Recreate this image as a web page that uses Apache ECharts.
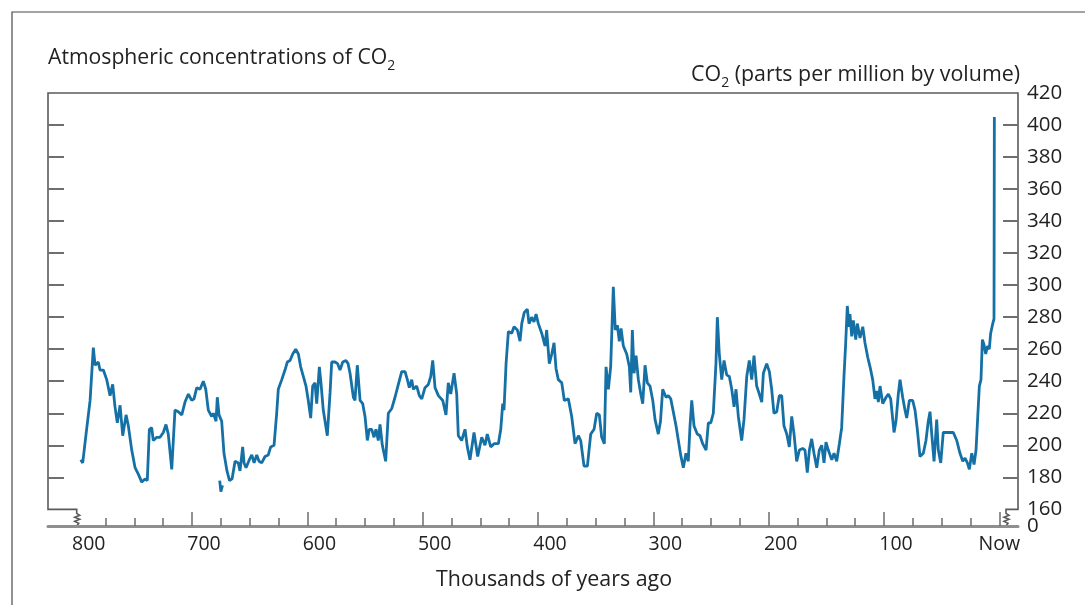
<!DOCTYPE html>
<html>
<head>
<meta charset="utf-8">
<style>
  html, body { margin: 0; padding: 0; background: #fff; }
  #main { width: 1085px; height: 605px; }
</style>
<script src="https://cdn.jsdelivr.net/npm/echarts@6/dist/echarts.min.js"></script>
</head>
<body>
<div id="main"></div>
<script>
// thousands of years ago / ppm
var kyrAgo = [
  796.5, 794.8, 791.9, 788.4, 785.6, 784.1, 781.3, 779.8, 776.9, 774.0,
  771.1, 768.8, 766.8, 764.8, 762.4, 760.1, 757.2, 755.2, 752.3, 749.4,
  746.6, 743.6, 740.8, 738.8, 737.0, 735.0, 733.6, 730.6, 727.8, 724.9,
  722.6, 720.6, 717.6, 714.8, 711.9, 708.9, 706.1, 703.2, 700.3, 698.3,
  695.9, 693.1, 690.2, 688.1, 685.9, 682.9, 681.5, 679.2, 678.1, 676.6,
  674.3, 672.3, 669.7, 667.5, 665.3, 662.7, 659.9, 658.4, 656.1, 654.9,
  653.2, 650.3, 648.2, 646.2, 643.9, 641.9, 639.6, 636.7, 633.9, 631.8,
  628.9, 626.6, 625.2, 622.2, 619.4, 617.4, 615.0, 612.7, 610.1, 607.8,
  605.8, 603.5, 601.2, 599.2, 597.1, 595.4, 593.4, 591.9, 589.6, 588.2,
  586.2, 582.7, 580.3, 578.9, 576.0, 573.8, 571.7, 569.3, 566.5, 564.7,
  563.0, 560.1, 558.7, 556.7, 554.3, 552.0, 550.0, 548.0, 546.3, 544.2,
  542.2, 540.5, 538.5, 537.0, 535.0, 533.5, 532.1, 529.8, 526.8, 524.0,
  521.1, 518.2, 515.3, 513.3, 511.6, 509.5, 508.1, 505.2, 502.9, 500.8,
  498.0, 495.1, 493.0, 491.3, 489.3, 486.4, 482.6, 479.8, 477.8, 475.7,
  472.8, 470.5, 469.1, 466.2, 463.3, 461.3, 459.0, 455.5, 452.3, 448.8,
  446.0, 444.0, 441.0, 438.1, 434.4, 432.3, 430.6, 429.5, 427.7, 425.7,
  422.8, 420.8, 417.9, 415.6, 414.1, 411.9, 409.3, 407.8, 405.5, 403.5,
  401.7, 399.7, 396.8, 393.9, 392.5, 390.2, 388.1, 386.1, 384.4, 382.4,
  379.4, 377.2, 373.7, 370.8, 367.9, 365.0, 363.0, 360.1, 357.2, 354.3,
  351.4, 349.1, 346.8, 344.8, 342.5, 341.0, 339.0, 337.0, 334.7, 333.0,
  331.2, 329.5, 328.0, 326.0, 323.1, 320.8, 319.6, 318.2, 316.7, 315.0,
  313.0, 310.9, 309.2, 307.2, 305.2, 302.9, 300.5, 298.5, 295.7, 293.8,
  291.9, 289.0, 287.0, 284.9, 282.7, 280.3, 278.3, 276.3, 274.0, 271.7,
  269.7, 268.2, 266.7, 264.7, 261.9, 259.5, 257.2, 254.3, 252.3, 250.2,
  248.0, 245.7, 244.5, 242.8, 240.7, 238.7, 236.4, 234.1, 232.0, 230.0,
  228.3, 226.3, 223.4, 221.4, 219.0, 216.8, 214.7, 212.7, 210.4, 208.1,
  206.0, 204.6, 201.7, 199.4, 197.4, 195.4, 193.0, 190.8, 188.7, 186.7,
  184.3, 182.1, 180.0, 178.0, 175.7, 173.4, 170.5, 168.5, 166.5, 164.7,
  162.7, 160.7, 158.3, 156.1, 154.0, 152.0, 150.3, 148.3, 145.3, 143.3,
  141.0, 138.7, 136.7, 134.7, 133.2, 131.8, 130.3, 129.5, 128.0, 126.6,
  124.5, 123.1, 120.8, 118.4, 116.5, 114.1, 112.1, 109.8, 107.8, 106.3,
  104.9, 103.4, 101.1, 98.2, 96.2, 94.2, 92.4, 91.3, 89.6, 87.6,
  86.1, 83.8, 81.8, 80.3, 78.0, 75.1, 73.1, 71.1, 68.8, 65.9,
  63.6, 61.6, 60.1, 58.6, 56.6, 54.3, 52.9, 50.8, 48.6, 45.6,
  42.7, 39.9, 36.9, 34.1, 31.7, 29.7, 27.7, 26.0, 23.9, 21.9,
  20.2, 18.7, 17.3, 15.9, 14.7, 13.3, 11.8, 10.2, 8.7, 7.5,
  5.7, 4.6, 4.3
];
var co2 = [
  191, 189, 207, 228, 261, 250, 252, 247, 247, 241,
  231, 238, 224, 214, 225, 206, 219, 212, 197, 186,
  182, 177, 179, 178, 210, 211, 203, 205, 205, 208,
  213, 207, 185, 222, 221, 219, 227, 232, 228, 229,
  236, 235, 240, 235, 222, 218, 220, 215, 230, 219,
  215, 195, 184, 178, 179, 190, 189, 184, 199, 189,
  186, 191, 194, 189, 194, 190, 189, 193, 194, 199,
  200, 220, 235, 241, 247, 252, 253, 257, 260, 257,
  249, 243, 237, 228, 217, 237, 239, 226, 249, 239,
  222, 206, 233, 252, 252, 251, 247, 252, 253, 251,
  245, 230, 228, 250, 228, 226, 218, 203, 210, 210,
  205, 210, 203, 213, 200, 199, 190, 220, 223, 230,
  238, 246, 246, 241, 236, 241, 235, 237, 231, 229,
  236, 238, 243, 253, 236, 231, 228, 219, 239, 232,
  245, 232, 206, 203, 210, 199, 191, 208, 193, 205,
  200, 207, 199, 201, 201, 210, 226, 222, 251, 271,
  270, 274, 272, 265, 276, 283, 285, 276, 280, 277,
  282, 276, 270, 262, 272, 251, 257, 264, 248, 241,
  239, 228, 229, 218, 201, 206, 203, 187, 187, 207,
  210, 220, 219, 205, 201, 249, 235, 249, 299, 272,
  275, 265, 273, 262, 257, 249, 233, 272, 245, 256,
  241, 232, 226, 250, 239, 237, 228, 216, 207, 215,
  235, 230, 231, 229, 221, 212, 203, 194, 186, 195,
  190, 212, 228, 212, 207, 206, 201, 197, 214, 214,
  220, 251, 280, 257, 241, 253, 244, 243, 235, 224,
  235, 218, 203, 216, 243, 253, 241, 256, 237, 232,
  227, 245, 251, 246, 235, 220, 221, 231, 231, 212,
  207, 199, 218, 207, 190, 197, 198, 197, 183, 197,
  204, 195, 186, 197, 200, 189, 202, 197, 191, 195,
  190, 201, 211, 243, 264, 287, 274, 282, 268, 278,
  266, 276, 267, 274, 264, 255, 249, 241, 229, 234,
  227, 237, 226, 230, 232, 229, 216, 208, 215, 232,
  241, 230, 222, 217, 228, 228, 222, 210, 193, 195,
  203, 215, 221, 207, 190, 216, 197, 189, 208, 208,
  208, 208, 203, 195, 190, 192, 189, 185, 195, 188,
  197, 218, 237, 241, 266, 263, 257, 262, 260, 270,
  276, 279, 405
];
// short detached piece near 675 kyr
var gapKyr = [676.0, 675.0, 673.6];
var gapCo2 = [178, 171, 175];

var yTicks = [180, 200, 220, 240, 260, 280, 300, 320, 340, 360, 380, 400];
var yLabels = [160, 180, 200, 220, 240, 260, 280, 300, 320, 340, 360, 380, 400, 420];
var yBaseValue = 149.6; // where the broken axis shows "0"
var xMajor = [700, 600, 500, 400, 300, 200, 100, 0];
var xMinor = [775, 750, 725, 675, 650, 625, 575, 550, 525, 475, 450, 425,
  375, 350, 325, 275, 250, 225, 175, 150, 125, 75, 50, 25];
var xLabels = [800, 700, 600, 500, 400, 300, 200, 100, 0];

(function () {
  var FONT = '"Open Sans", "Noto Sans", sans-serif';
  var INK = '#222';
  var AXIS = '#6e6e6e';
  var LINE = '#1570a6';

  var chart = echarts.init(document.getElementById('main'));

  var xBase = {
    type: 'value', min: -16.2, max: 824.9, inverse: true,
    position: 'bottom', offset: 0,
    splitLine: { show: false }
  };
  var yBase = {
    type: 'value', min: yBaseValue, max: 420,
    splitLine: { show: false },
    axisLine: { show: false, onZero: false }
  };

  chart.setOption({
    animation: false,
    grid: { left: 48, right: 67, top: 93, bottom: 79 },
    xAxis: [
      Object.assign({}, xBase, {
        axisLine: { show: true, onZero: false, lineStyle: { color: '#8f8f8f', width: 3 } },
        axisTick: { show: true, inside: true, length: 14, customValues: xMajor,
          lineStyle: { color: AXIS, width: 1.5 } },
        axisLabel: {
          show: true, customValues: xLabels, margin: 8,
          showMinLabel: true, showMaxLabel: true,
          color: INK, fontFamily: FONT, fontSize: 19.5,
          formatter: function (v) { return v === 0 ? '{n|Now}' : '{d|' + v + '}'; },
          rich: {
            d: { color: INK, fontFamily: FONT, fontSize: 19.5, padding: [0, 0, 0, 24] },
            n: { color: INK, fontFamily: FONT, fontSize: 19.5 }
          }
        }
      }),
      Object.assign({}, xBase, {
        axisLine: { show: false, onZero: false },
        axisTick: { show: true, inside: true, length: 8, customValues: xMinor,
          lineStyle: { color: AXIS, width: 1.5 } },
        axisLabel: { show: false }
      })
    ],
    yAxis: [
      Object.assign({}, yBase, {
        position: 'left',
        axisTick: { show: true, inside: true, length: 16, customValues: yTicks,
          lineStyle: { color: AXIS, width: 2 } },
        axisLabel: { show: false }
      }),
      Object.assign({}, yBase, {
        position: 'right',
        axisTick: { show: true, inside: true, length: 15, customValues: yTicks,
          lineStyle: { color: AXIS, width: 2 } },
        axisLabel: {
          show: true, customValues: yLabels, margin: 9,
          showMinLabel: true, showMaxLabel: true,
          color: INK, fontFamily: FONT, fontSize: 20.5
        }
      }),
      Object.assign({}, yBase, {
        position: 'right', offset: 0,
        axisTick: { show: false },
        axisLabel: {
          show: true, customValues: [yBaseValue], margin: 9,
          showMinLabel: true,
          color: INK, fontFamily: FONT, fontSize: 20.5,
          formatter: function () { return '0'; }
        }
      })
    ],
    series: [
      {
        type: 'line', showSymbol: false, xAxisIndex: 0, yAxisIndex: 0,
        data: kyrAgo.map(function (k, i) { return [k, co2[i]]; }),
        lineStyle: { color: LINE, width: 2.8 }, itemStyle: { color: LINE }
      },
      {
        type: 'line', showSymbol: false, xAxisIndex: 0, yAxisIndex: 0,
        data: gapKyr.map(function (k, i) { return [k, gapCo2[i]]; }),
        lineStyle: { color: LINE, width: 2.8 }, itemStyle: { color: LINE }
      }
    ]
  });

  // frame with broken bottom corners
  function px(k, v) { return chart.convertToPixel({ xAxisIndex: 0, yAxisIndex: 0 }, [k, v]); }
  var tl = px(824.9, 420), br = px(-16.2, 160), bs = px(800, yBaseValue);
  var boxL = tl[0], boxT = tl[1], boxR = br[0], boxB = br[1], axisY = bs[1];
  var brkL = bs[0], brkR = boxR - 12;

  function squiggle(x) {
    return [[x, boxB], [x, boxB + 4], [x + 3, boxB + 6], [x - 2, boxB + 8],
      [x + 3, boxB + 10], [x - 2, boxB + 12], [x + 2, boxB + 14], [x, axisY]];
  }
  var boxPts = squiggle(brkL).reverse()
    .concat([[boxL, boxB], [boxL, boxT], [boxR, boxT], [boxR, boxB]])
    .concat(squiggle(brkR));

  var titleRich = {
    s: { fontSize: 14, fontFamily: FONT, fill: INK, verticalAlign: 'bottom', lineHeight: 14 }
  };

  chart.setOption({
    graphic: [
      { type: 'polyline', silent: true, shape: { points: [[12, 605], [12, 12], [1085, 12]] },
        style: { stroke: '#4a4a4a', lineWidth: 1.2, fill: null } },
      { type: 'polyline', silent: true, shape: { points: boxPts },
        style: { stroke: '#5a5a5a', lineWidth: 1.6, fill: null } },
      { type: 'text', silent: true, x: boxL, y: 58,
        style: { text: 'Atmospheric concentrations of CO{s|2}', rich: titleRich,
          fontSize: 21.2, lineHeight: 30, fontFamily: FONT, fill: INK,
          verticalAlign: 'middle', align: 'left' } },
      { type: 'text', silent: true, x: 1020, y: 75,
        style: { text: 'CO{s|2} (parts per million by volume)', rich: titleRich,
          fontSize: 21.4, lineHeight: 30, fontFamily: FONT, fill: INK,
          verticalAlign: 'middle', align: 'right' } },
      { type: 'text', silent: true, x: 554, y: 580,
        style: { text: 'Thousands of years ago', fontSize: 21.4, fontFamily: FONT, fill: INK,
          verticalAlign: 'middle', align: 'center' } }
    ]
  });
})();
</script>
</body>
</html>
